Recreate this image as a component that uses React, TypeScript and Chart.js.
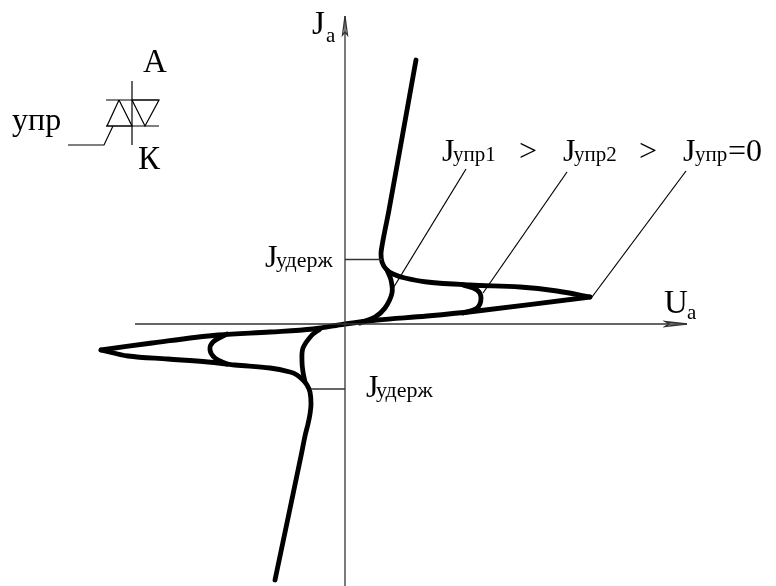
import React, { useEffect, useRef } from "react";
import { Chart, registerables } from "chart.js";

Chart.register(...registerables);

type P = [number, number];

// Values: U (right of origin), J (above origin)
const upperBranch: P[] = [[71, 264], [44, 114], [40, 94], [37, 78], [36, 70], [37, 62], [41, 55], [48, 50], [60, 46], [82, 42], [125, 39], [175, 37], [212, 33], [245, 27]];
const forwardBlocking: P[] = [[245, 27], [132, 13], [82, 8], [32, 4], [0, 0], [-32, -5], [-75, -8], [-127, -11], [-193, -19], [-244, -26]];
const lowerBranch: P[] = [[-244, -26], [-217, -32], [-177, -35], [-137, -38], [-110, -41], [-75, -44], [-55, -48], [-48, -51], [-42, -56], [-38, -61], [-35, -68], [-34, -80], [-35, -90], [-37, -100], [-40, -112], [-44, -132], [-70, -256]];
const control1Upper: P[] = [[15, 1], [30, 7], [40, 16], [47, 31], [46, 44], [42, 54]];
const control2Upper: P[] = [[118, 39], [132, 34], [136, 26], [132, 16], [118, 11]];
const control1Lower: P[] = [[-25, -5], [-33, -11], [-42, -24], [-43, -38], [-42, -48], [-40, -58]];
const control2Lower: P[] = [[-118, -10], [-132, -18], [-135, -26], [-130, -34], [-118, -40]];

const axisJ: P[] = [[0, -262], [0, 308]];
const axisU: P[] = [[-210, 0], [342, 0]];
const arrowJ: P[] = [[0, 308], [-2.5, 289], [0, 292], [2.5, 289], [0, 308]];
const arrowU: P[] = [[342, 0], [320, 2.5], [324, 0], [320, -2.5], [342, 0]];
const holdUpper: P[] = [[0, 64.5], [37, 64.5]];
const holdLower: P[] = [[0, -65], [-34, -65]];
const leader1: P[] = [[121, 155], [47, 34]];
const leader2: P[] = [[222, 152], [138, 31]];
const leader3: P[] = [[341, 153], [247, 27]];

const anodeLead: P[] = [[-213, 243], [-213, 179]];
const barTop: P[] = [[-239, 224], [-186, 224]];
const barBottom: P[] = [[-239, 198], [-186, 198]];
const triangleUp: P[] = [[-226, 224], [-238, 198], [-213, 198], [-226, 224]];
const triangleDown: P[] = [[-213, 224], [-186, 224], [-200, 198], [-213, 224]];
const gateLead: P[] = [[-232, 198], [-241, 179], [-277, 179]];

type Label = { text: string; u: number; j: number; size: number };
const labels: Label[] = [
  { text: "J", u: -33, j: 290, size: 33 },
  { text: "a", u: -19, j: 282, size: 21 },
  { text: "U", u: 319, j: 11, size: 33 },
  { text: "a", u: 342, j: 5, size: 21 },
  { text: "А", u: -202, j: 252, size: 33 },
  { text: "упр", u: -333, j: 194, size: 32 },
  { text: "К", u: -207, j: 155, size: 33 },
  { text: "J", u: 97, j: 163, size: 32 },
  { text: "упр1", u: 108, j: 163, size: 21 },
  { text: ">", u: 174, j: 163, size: 32 },
  { text: "J", u: 218, j: 163, size: 32 },
  { text: "упр2", u: 229, j: 163, size: 21 },
  { text: ">", u: 294, j: 163, size: 32 },
  { text: "J", u: 338, j: 163, size: 32 },
  { text: "упр", u: 350, j: 163, size: 21 },
  { text: "=0", u: 383, j: 163, size: 32 },
  { text: "J", u: -80, j: 57, size: 32 },
  { text: "удерж", u: -69, j: 57, size: 22 },
  { text: "J", u: 21, j: -73, size: 32 },
  { text: "удерж", u: 31, j: -73, size: 22 },
];

const thick = [upperBranch, forwardBlocking, lowerBranch, control1Upper, control2Upper, control1Lower, control2Lower];
const axes = [axisJ, axisU, arrowJ, arrowU, holdUpper, holdLower];
const thin = [leader1, leader2, leader3, anodeLead, barTop, barBottom, triangleUp, triangleDown, gateLead];

const toData = (pts: P[]) => pts.map(([x, y]) => ({ x, y }));

const textPlugin = {
  id: "figureText",
  afterDatasetsDraw(chart: any) {
    const { ctx, scales } = chart;
    ctx.save();
    ctx.fillStyle = "#000";
    ctx.textBaseline = "alphabetic";
    ctx.textAlign = "left";
    for (const l of labels) {
      ctx.font = `${l.size}px "Liberation Serif"`;
      ctx.fillText(l.text, scales.x.getPixelForValue(l.u), scales.y.getPixelForValue(l.j));
    }
    ctx.restore();
  },
};

export default function App() {
  const ref = useRef<HTMLCanvasElement>(null);
  useEffect(() => {
    document.body.style.margin = "0";
    document.body.style.background = "#fff";
    const chart = new Chart(ref.current!, {
      type: "scatter",
      data: {
        datasets: [
          ...axes.map((d) => ({ data: toData(d), showLine: true, borderColor: "#333", borderWidth: 1.3, pointRadius: 0, tension: 0 })),
          ...thin.map((d) => ({ data: toData(d), showLine: true, borderColor: "#000", borderWidth: 1.2, pointRadius: 0, tension: 0 })),
          ...thick.map((d) => ({
            data: toData(d),
            showLine: true,
            borderColor: "#000",
            borderWidth: 4.8,
            pointRadius: 0,
            tension: 0.35,
            borderCapStyle: "round" as const,
            borderJoinStyle: "round" as const,
          })),
        ],
      },
      options: {
        animation: false,
        responsive: false,
        layout: { padding: 0 },
        plugins: { legend: { display: false }, tooltip: { enabled: false } },
        scales: {
          x: { type: "linear", display: false, min: -345, max: 431 },
          y: { type: "linear", display: false, min: -262, max: 324 },
        },
      },
      plugins: [textPlugin],
    });
    return () => chart.destroy();
  }, []);
  return <canvas ref={ref} width={776} height={586} style={{ display: "block" }} />;
}
